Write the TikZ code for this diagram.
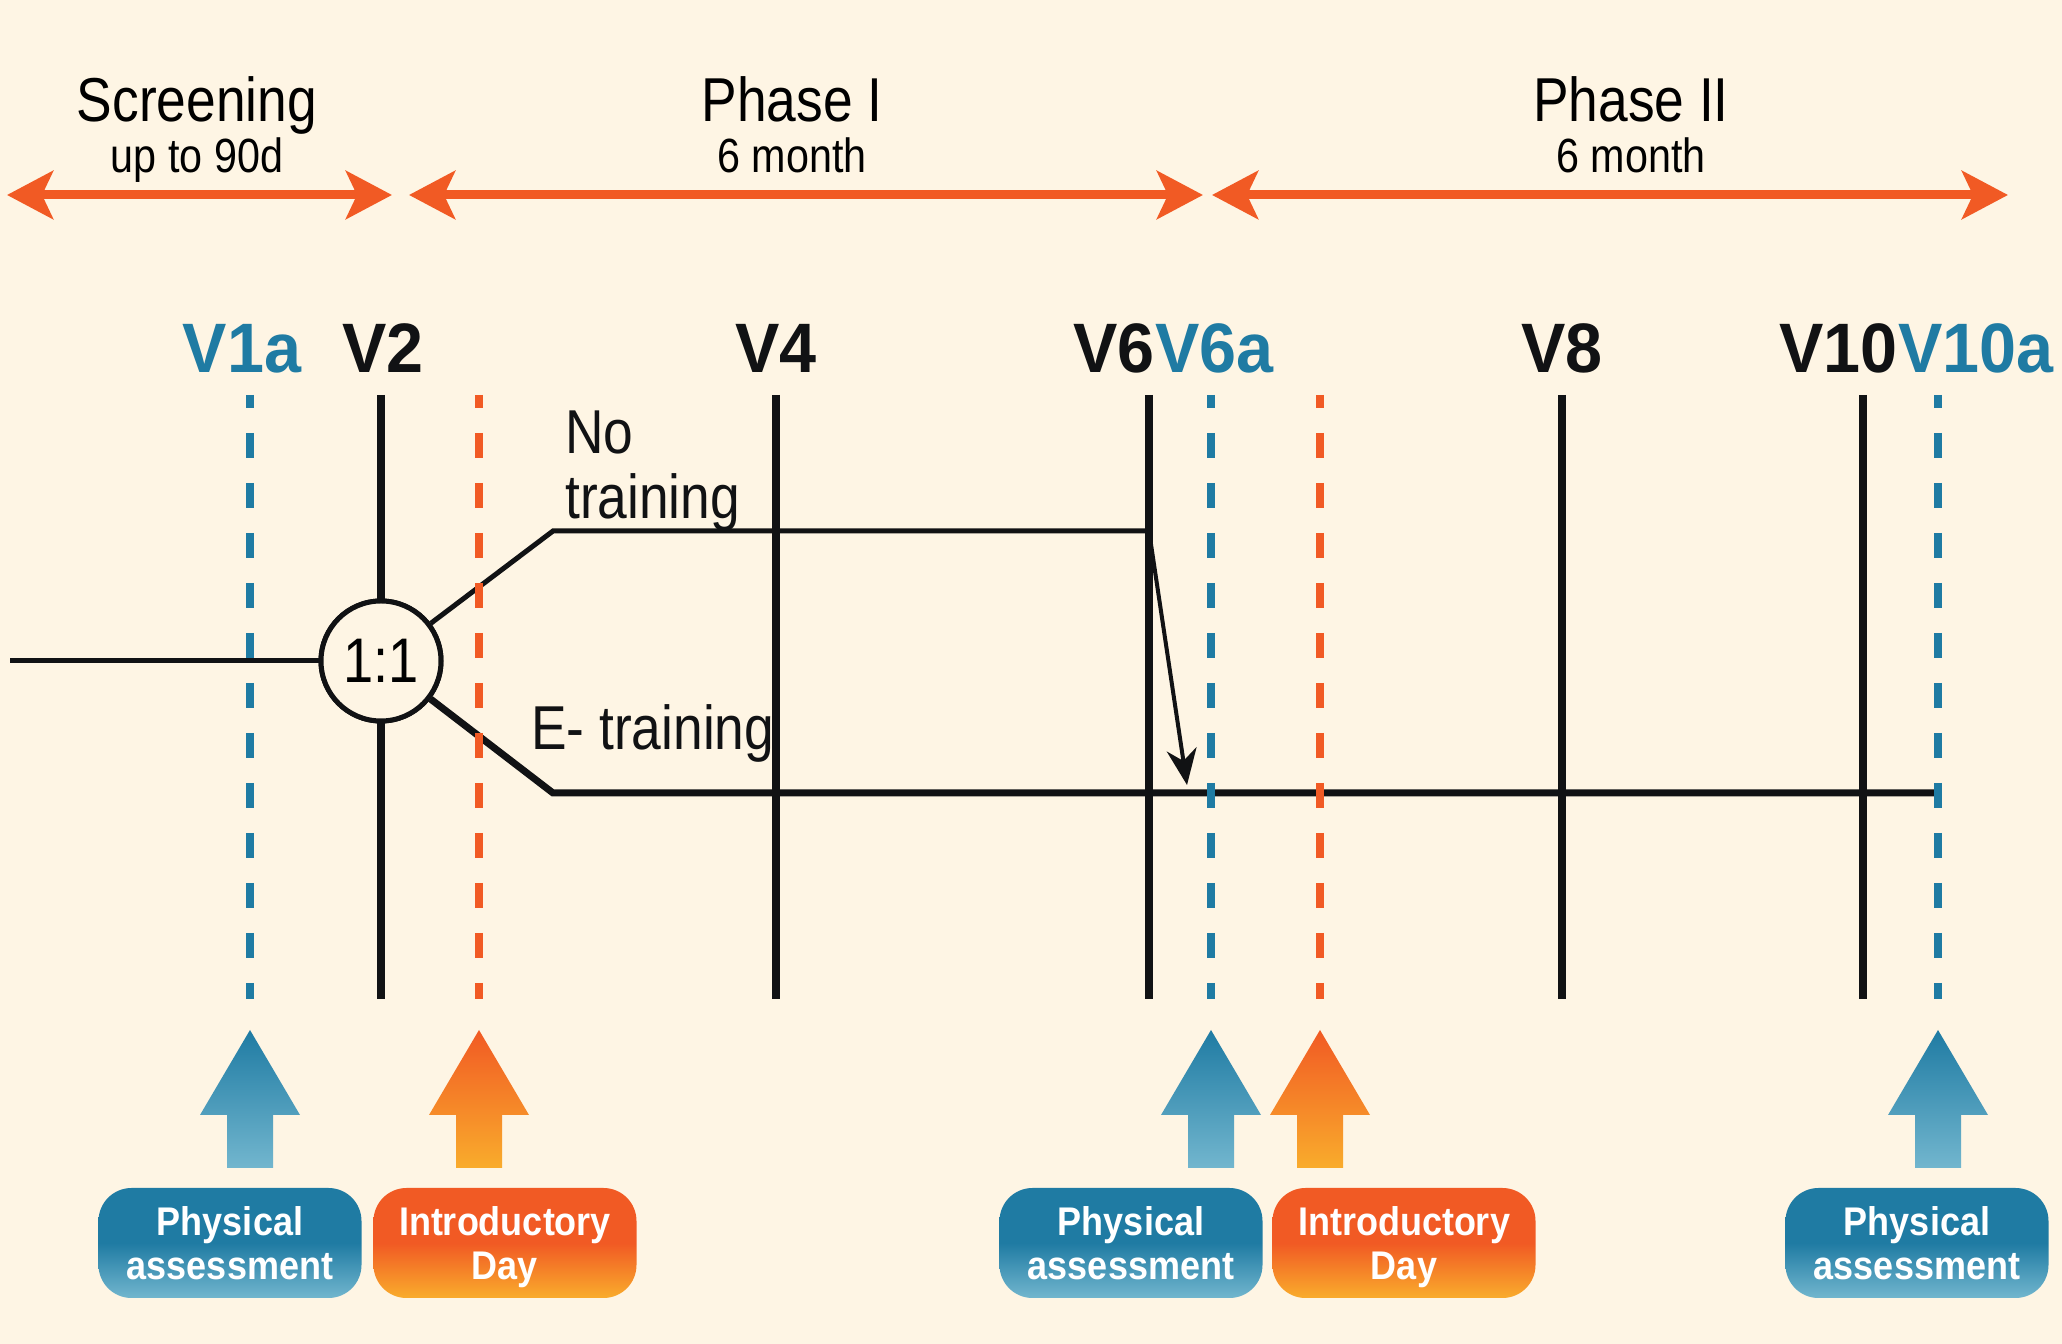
\documentclass[tikz,border=0pt]{standalone}
\usepackage{fontspec}
\setmainfont{Liberation Sans}[FakeStretch=0.86]
\newfontfamily\widefont{Liberation Sans}[FakeStretch=0.95]
\newfontfamily\boxfont{Liberation Sans}[FakeStretch=0.9]
\usepackage{tikz}
\usetikzlibrary{arrows.meta}
\definecolor{creambg}{HTML}{FEF5E4}
\definecolor{trialblue}{HTML}{1F7BA3}
\definecolor{paleblue}{HTML}{72B6CE}
\definecolor{trialorange}{HTML}{F15A24}
\definecolor{warmyellow}{HTML}{F9AC2C}
\definecolor{inkblack}{HTML}{111214}
\newcommand{\visitarrow}[3]{%
  \shade[top color=#2,bottom color=#3] (#1,314) -- (#1+50,229) -- (#1+23,229) -- (#1+23,176)
    -- (#1-23,176) -- (#1-23,229) -- (#1-50,229) -- cycle;}

\begin{document}
\begin{tikzpicture}[x=1pt,y=1pt,
    phasearrow/.style={trialorange,line width=9pt,
      {Stealth[length=46pt,width=48pt,inset=11pt]}-{Stealth[length=46pt,width=48pt,inset=11pt]}},
    phasetitle/.style={font=\fontsize{62}{66}\selectfont,inner sep=0pt,anchor=base},
    phasesub/.style={font=\fontsize{48}{52}\selectfont,inner sep=0pt,anchor=base},
    visitlabel/.style={font=\widefont\fontsize{70}{74}\selectfont\bfseries,text=inkblack,inner sep=0pt,anchor=base},
    visitline/.style={inkblack,line width=8.5pt},
    assessdash/.style={trialblue,line width=8pt,dash pattern=on 25pt off 25pt,dash phase=12pt},
    introdash/.style={trialorange,line width=8pt,dash pattern=on 25pt off 25pt,dash phase=12pt},
    armlabel/.style={font=\fontsize{62}{65}\selectfont,text=inkblack,inner sep=0pt,align=left},
    assessbox/.style={rounded corners=33pt,minimum width=263pt,minimum height=110pt,
      top color=trialblue,bottom color=paleblue,middle color=trialblue,
      text=white,font=\boxfont\fontsize{40}{44}\selectfont\bfseries,align=center},
    introbox/.style={rounded corners=33pt,minimum width=263pt,minimum height=110pt,
      top color=trialorange,bottom color=warmyellow,middle color=trialorange,
      text=white,font=\boxfont\fontsize{40}{44}\selectfont\bfseries,align=center}]
    \useasboundingbox (0,0) rectangle (2062,1344);
    \fill[creambg] (0,0) rectangle (2062,1344);
    % phases
    \coordinate (scrL) at (7,1149);    \coordinate (scrR) at (392,1149);
    \coordinate (ph1L) at (409,1149);  \coordinate (ph1R) at (1203,1149);
    \coordinate (ph2L) at (1212,1149); \coordinate (ph2R) at (2008,1149);
    \draw[phasearrow] (scrL) -- (scrR);
    \draw[phasearrow] (ph1L) -- (ph1R);
    \draw[phasearrow] (ph2L) -- (ph2R);
    \node[phasetitle] (scrTitle) at (197,1222) {Screening};
    \node[phasesub] (scrSub) at (197,1171) {up to 90d};
    \node[phasetitle] (ph1Title) at (792,1222) {Phase I};
    \node[phasesub] (ph1Sub) at (792,1171) {6 month};
    \node[phasetitle] (ph2Title) at (1631,1222) {Phase II};
    \node[phasesub] (ph2Sub) at (1631,1171) {6 month};
    % visits
    \node[visitlabel,text=trialblue] (v1a) at (242,971) {V1a};
    \node[visitlabel] (v2) at (383,971) {V2};
    \node[visitlabel] (v4) at (776,971) {V4};
    \node[visitlabel,anchor=base east] (v6) at (1155,971) {V6};
    \node[visitlabel,anchor=base west,text=trialblue] (v6a) at (v6.base east) {V6a};
    \node[visitlabel] (v8) at (1562,971) {V8};
    \node[visitlabel,anchor=base east] (v10) at (1898,971) {V10};
    \node[visitlabel,anchor=base west,text=trialblue] (v10a) at (v10.base east) {V10a};
    % arms
    \node[circle,draw=inkblack,line width=5pt,fill=creambg,minimum size=120pt,inner sep=0pt,
      font=\fontsize{63}{66}\selectfont] (rand) at (381,683) {};
    \coordinate (trialStart) at (10,683);
    \coordinate (noTurn) at (553,813);  \coordinate (noEnd) at (1149,813);
    \coordinate (eTurn) at (553,551);   \coordinate (eEnd) at (1939,551);
    \coordinate (switchTip) at (1187,559);
    \draw[inkblack,line width=5pt] (trialStart) -- (rand);
    \draw[inkblack,line width=5pt] (rand) -- (noTurn) -- (noEnd);
    \draw[inkblack,line width=7pt] (rand) -- (eTurn) -- (eEnd);
    \draw[visitline] (381,949) coordinate (v2top) -- (381,345) coordinate (v2bot);
    \draw[visitline] (776,949) coordinate (v4top) -- (776,345) coordinate (v4bot);
    \draw[visitline] (1149,949) coordinate (v6top) -- (1149,345) coordinate (v6bot);
    \draw[visitline] (1562,949) coordinate (v8top) -- (1562,345) coordinate (v8bot);
    \draw[visitline] (1863,949) coordinate (v10top) -- (1863,345) coordinate (v10bot);
    \draw[assessdash] (250,949) coordinate (v1atop) -- (250,345) coordinate (v1abot);
    \draw[assessdash] (1211,949) coordinate (v6atop) -- (1211,345) coordinate (v6abot);
    \draw[assessdash] (1938,949) coordinate (v10atop) -- (1938,345) coordinate (v10abot);
    \draw[introdash] (479,949) coordinate (intro1top) -- (479,345) coordinate (intro1bot);
    \draw[introdash] (1320,949) coordinate (intro2top) -- (1320,345) coordinate (intro2bot);
    \node[circle,draw=inkblack,line width=5pt,fill=creambg,minimum size=120pt,inner sep=0pt,
      font=\fontsize{63}{66}\selectfont] at (rand) {1:1};
    \draw[inkblack,line width=4pt,-{Stealth[length=36pt,width=30pt]}] (noEnd) -- (switchTip);
    \node[armlabel,anchor=west] (noLabel) at (565,873) {No\\training};
    \node[armlabel,anchor=base west] (eLabel) at (531,594) {E- training};
    % assessments
    \visitarrow{250}{trialblue}{paleblue}
    \visitarrow{479}{trialorange}{warmyellow}
    \visitarrow{1211}{trialblue}{paleblue}
    \visitarrow{1320}{trialorange}{warmyellow}
    \visitarrow{1938}{trialblue}{paleblue}
    \node[assessbox] (pa1) at (230,101) {Physical\\assessment};
    \node[introbox] (id1) at (505,101) {Introductory\\\smash{Day}};
    \node[assessbox] (pa2) at (1131,101) {Physical\\assessment};
    \node[introbox] (id2) at (1404,101) {Introductory\\\smash{Day}};
    \node[assessbox] (pa3) at (1917,101) {Physical\\assessment};
  \end{tikzpicture}
\end{document}
